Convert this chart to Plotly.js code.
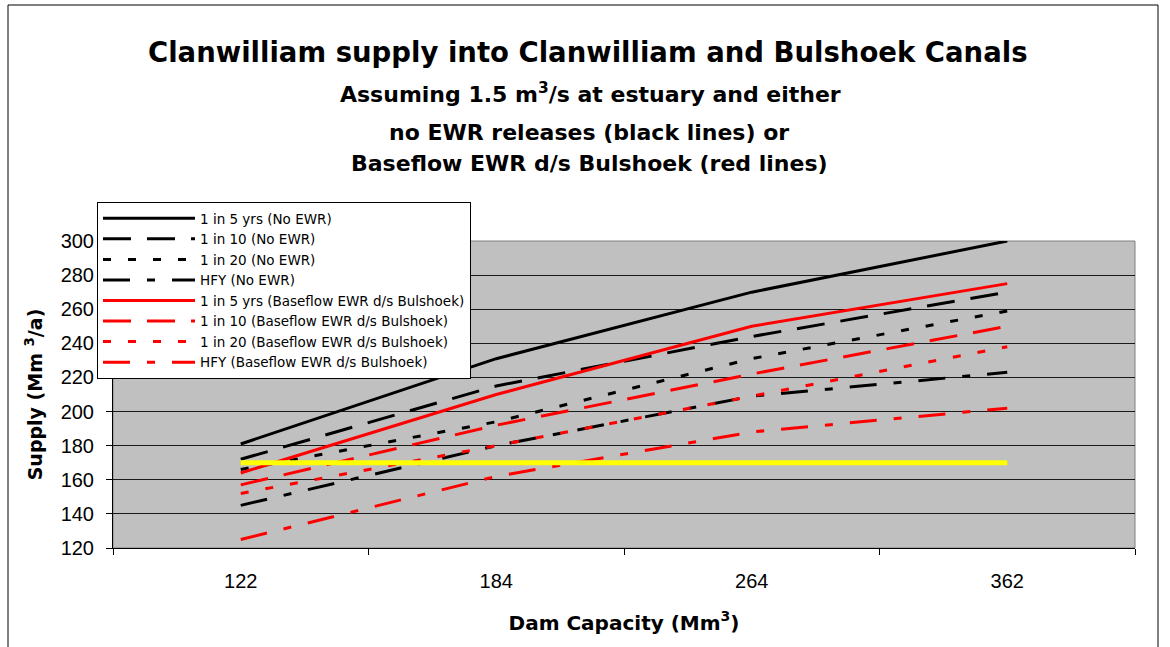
<!DOCTYPE html>
<html>
<head>
<meta charset="utf-8">
<script src="https://cdn.plot.ly/plotly-3.0.1.min.js"></script>
<style>html,body{margin:0;padding:0;background:#fff;}#chart{width:1170px;height:647px;}</style>
</head>
<body>
<div id="chart"></div>
<script>
// Dam capacity categories (Mm3)
const capacities = ['122', '184', '264', '362'];

// Supply (Mm3/a) – no EWR releases (black lines)
const noEwr1in5  = [181, 231, 270, 300];
const noEwr1in10 = [172, 215, 244, 270];
const noEwr1in20 = [166, 194, 231, 259];
const noEwrHFY   = [145, 180, 209, 223];

// Supply (Mm3/a) – baseflow EWR d/s Bulshoek (red lines)
const base1in5  = [164, 210, 250, 275];
const base1in10 = [157, 192, 222, 250];
const base1in20 = [152, 180, 209, 238];
const baseHFY   = [125, 162, 188, 202];

// Average / requirement line (yellow)
const average = [170, 170, 170, 170];

const seriesNames = [
  '1 in 5 yrs (No EWR)',
  '1 in 10 (No EWR)',
  '1 in 20 (No EWR)',
  'HFY (No EWR)',
  '1 in 5 yrs (Baseflow EWR d/s Bulshoek)',
  '1 in 10 (Baseflow EWR d/s Bulshoek)',
  '1 in 20 (Baseflow EWR d/s Bulshoek)',
  'HFY (Baseflow EWR d/s Bulshoek)'
];

const FONT = 'Liberation Sans, Arial, sans-serif';
const WIDE = 'DejaVu Sans, Liberation Sans, sans-serif';
const DASH_LONG = '28px,16px';
const DASH_DOT = '8px,17px';
const DASH_DASHDOT = '27px,17px,8px,17px';

function mk(name, y, color, dash, width) {
  return {
    type: 'scatter', mode: 'lines', name: name,
    x: capacities, y: y,
    line: {color: color, dash: dash, width: width || 3},
    hoverinfo: 'x+y+name'
  };
}

const traces = [
  mk(seriesNames[0], noEwr1in5, '#000000', 'solid'),
  mk(seriesNames[1], noEwr1in10, '#000000', DASH_LONG),
  mk(seriesNames[2], noEwr1in20, '#000000', DASH_DOT),
  mk(seriesNames[3], noEwrHFY, '#000000', DASH_DASHDOT),
  mk(seriesNames[4], base1in5, '#FF0000', 'solid'),
  mk(seriesNames[5], base1in10, '#FF0000', DASH_LONG),
  mk(seriesNames[6], base1in20, '#FF0000', DASH_DOT),
  mk(seriesNames[7], baseHFY, '#FF0000', DASH_DASHDOT),
  Object.assign(mk('Average', average, '#FFFF00', 'solid', 5), {showlegend: false})
];

// plot area geometry in px (for paper conversions)
const L = 113, R = 1135, T = 241, B = 548;
const px = x => (x - L) / (R - L);
const py = y => (B - y) / (B - T);

const layout = {
  width: 1170, height: 647,
  margin: {l: L, r: 1170 - R, t: T, b: 647 - B, pad: 0},
  paper_bgcolor: '#FFFFFF',
  plot_bgcolor: '#C0C0C0',
  font: {family: FONT, color: '#000000'},
  showlegend: true,
  legend: {
    x: px(97), y: py(202), xanchor: 'left', yanchor: 'top',
    bgcolor: '#FFFFFF', bordercolor: '#000000', borderwidth: 1,
    font: {family: WIDE, size: 13.5, color: '#000000'},
    itemwidth: 92, tracegroupgap: 0,
    entrywidth: 400, entrywidthmode: 'pixels'
  },
  xaxis: {
    type: 'category', range: [-0.5, 3.5],
    showline: true, linecolor: '#000000', linewidth: 1,
    ticks: 'outside', tickson: 'boundaries', ticklen: 6, tickcolor: '#000000', tickwidth: 1,
    showgrid: false, zeroline: false,
    tickfont: {family: FONT, size: 20, color: '#000000'},
    ticklabelstandoff: 15,
    title: {text: '<b>Dam Capacity (Mm<sup>3</sup>)</b>', font: {family: WIDE, size: 20, color: '#000000'}, standoff: 24},
    automargin: false, fixedrange: true
  },
  yaxis: {
    range: [120, 300], tick0: 120, dtick: 20,
    showline: true, linecolor: '#000000', linewidth: 1,
    ticks: 'outside', ticklen: 6, tickcolor: '#000000', tickwidth: 1,
    showgrid: true, gridcolor: '#1a1a1a', gridwidth: 1, zeroline: false,
    tickfont: {family: FONT, size: 20, color: '#000000'},
    ticklabelstandoff: 8,
    title: {text: '<b>Supply (Mm <sup>3</sup>/a)</b>', font: {family: WIDE, size: 19, color: '#000000'}, standoff: 12},
    automargin: false, fixedrange: true
  },
  annotations: [
    {text: '<b>Clanwilliam supply into Clanwilliam and Bulshoek Canals</b>', xref: 'paper', yref: 'paper',
     x: px(588), y: py(52), xanchor: 'center', yanchor: 'middle', showarrow: false,
     font: {family: WIDE, size: 27.5, color: '#000000'}},
    {text: '<b>Assuming 1.5 m<sup>3</sup>/s at estuary and either</b>', xref: 'paper', yref: 'paper',
     x: px(590), y: py(92.5), xanchor: 'center', yanchor: 'middle', showarrow: false,
     font: {family: WIDE, size: 22, color: '#000000'}},
    {text: '<b>no EWR releases (black lines) or</b>', xref: 'paper', yref: 'paper',
     x: px(589), y: py(132), xanchor: 'center', yanchor: 'middle', showarrow: false,
     font: {family: WIDE, size: 22, color: '#000000'}},
    {text: '<b>Baseflow EWR d/s Bulshoek (red lines)</b>', xref: 'paper', yref: 'paper',
     x: px(589), y: py(163), xanchor: 'center', yanchor: 'middle', showarrow: false,
     font: {family: WIDE, size: 22, color: '#000000'}}
  ],
  shapes: [
    {type: 'rect', xref: 'paper', yref: 'paper', x0: 0, x1: 1, y0: 0, y1: 1,
     line: {color: '#808080', width: 1}, layer: 'below'},
    {type: 'rect', xref: 'paper', yref: 'paper', x0: px(8), x1: px(1158), y0: py(720), y1: py(5),
     line: {color: '#000000', width: 1}, fillcolor: 'rgba(0,0,0,0)', layer: 'below'}
  ]
};

Plotly.newPlot('chart', traces, layout, {displayModeBar: false, staticPlot: true});
</script>
</body>
</html>
